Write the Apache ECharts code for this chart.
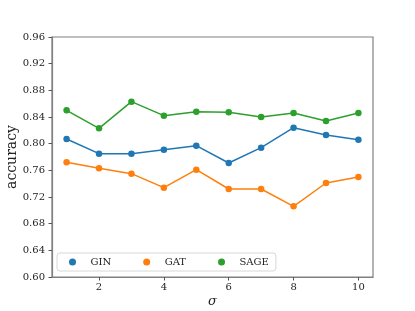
<!DOCTYPE html>
<html>
<head>
<meta charset="utf-8">
<script src="https://cdn.jsdelivr.net/npm/echarts@6/dist/echarts.min.js"></script>
<style>html,body{margin:0;padding:0;background:#fff}#c{width:415px;height:311px}</style>
</head>
<body>
<div id="c"></div>
<script>
const sigma = [1, 2, 3, 4, 5, 6, 7, 8, 9, 10];
const gin  = [0.807, 0.785, 0.785, 0.791, 0.797, 0.771, 0.794, 0.824, 0.813, 0.806];
const gat  = [0.772, 0.763, 0.755, 0.734, 0.761, 0.732, 0.732, 0.706, 0.741, 0.750];
const sage = [0.850, 0.823, 0.863, 0.842, 0.848, 0.847, 0.840, 0.846, 0.834, 0.846];
const xTicks = [2, 4, 6, 8, 10];
const yTicks = [0.60, 0.64, 0.68, 0.72, 0.76, 0.80, 0.84, 0.88, 0.92, 0.96];

const font = 'DejaVu Serif';
function mk(name, vals, color) {
  return {
    name: name, type: 'line', data: sigma.map((s, i) => [s, vals[i]]),
    symbol: 'circle', symbolSize: 6.5, showSymbol: true,
    lineStyle: { width: 1.5, color: color },
    itemStyle: { color: color },
    emphasis: { disabled: true }, animation: false
  };
}
const chart = echarts.init(document.getElementById('c'), null, { renderer: 'canvas' });
chart.setOption({
  animation: false,
  backgroundColor: '#fff',
  grid: { left: 52, right: 42, top: 37, bottom: 34, containLabel: false, outerBoundsMode: 'none',
    show: true, borderColor: '#808080', borderWidth: 1.2, backgroundColor: '#fff' },
  xAxis: {
    type: 'value', min: 0.55, max: 10.45,
    name: 'σ', nameLocation: 'middle', nameGap: 18, nameMoveOverlap: false,
    nameTextStyle: { fontFamily: font, fontStyle: 'italic', fontSize: 13, color: '#222' },
    axisLine: { show: true, lineStyle: { color: '#808080', width: 1.2 } },
    axisTick: { show: true, length: 3.5, lineStyle: { color: '#555' }, customValues: xTicks },
    axisLabel: { fontFamily: font, fontSize: 10, color: '#222', margin: 5, customValues: xTicks },
    splitLine: { show: false }
  },
  yAxis: {
    type: 'value', min: 0.6, max: 0.96,
    name: 'accuracy', nameLocation: 'middle', nameRotate: 90, nameGap: 33, nameMoveOverlap: false,
    nameTextStyle: { fontFamily: font, fontSize: 14, color: '#222' },
    axisLine: { show: true, lineStyle: { color: '#808080', width: 1.2 } },
    axisTick: { show: true, length: 3.5, lineStyle: { color: '#555' }, customValues: yTicks },
    axisLabel: { fontFamily: font, fontSize: 10, color: '#222', margin: 7, customValues: yTicks,
      formatter: v => v.toFixed(2) },
    splitLine: { show: false }
  },
  legend: {
    left: 57, top: 253, orient: 'horizontal',
    padding: [4, 7, 4, 12],
    itemWidth: 26, itemHeight: 7, itemGap: 32,
    borderColor: '#d8d8d8', borderWidth: 1, borderRadius: 3, backgroundColor: 'rgba(255,255,255,0.8)',
    textStyle: { fontFamily: font, fontSize: 10, color: '#222' },
    data: [
      { name: 'GIN', icon: 'circle' },
      { name: 'GAT', icon: 'circle' },
      { name: 'SAGE', icon: 'circle' }
    ]
  },
  series: [
    mk('GIN', gin, '#1f77b4'),
    mk('GAT', gat, '#ff7f0e'),
    mk('SAGE', sage, '#2ca02c')
  ]
});
</script>
</body>
</html>
